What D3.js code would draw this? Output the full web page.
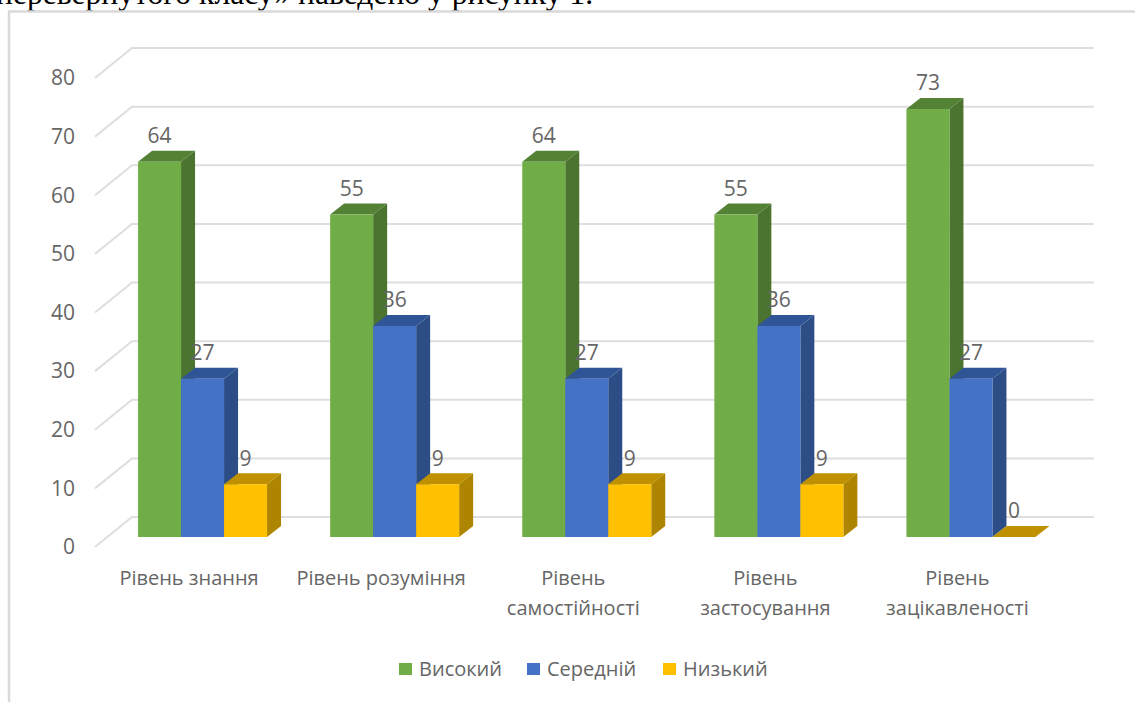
<!DOCTYPE html>
<html>
<head>
<meta charset="utf-8">
<script src="https://cdnjs.cloudflare.com/ajax/libs/d3/7.8.5/d3.min.js"></script>
<style>
html,body{margin:0;padding:0;background:#fff;overflow:hidden}
svg{display:block}
text{font-family:"Open Sans","Noto Sans",sans-serif;fill:#666}
</style>
</head>
<body>
<svg id="chart" width="1135" height="702"></svg>
<script>
const categories = [["Рівень знання"],["Рівень розуміння"],["Рівень","самостійності"],["Рівень","застосування"],["Рівень","зацікавленості"]];
const seriesNames = ["Високий","Середній","Низький"];
const high = [64,55,64,55,73];
const medium = [27,36,27,36,27];
const low = [9,9,9,9,0];
const yTicks = [0,10,20,30,40,50,60,70,80];
const frontColors = ["#70ad47","#4472c4","#ffc000"];
const topColors = ["#548235","#2f5597","#bf9000"];
const sideColors = ["#4b7430","#2c4d85","#ae8500"];

const seriesValues = [high, medium, low];
const svg = d3.select("#chart");
const W = 1135, H = 702;
const depth = {dx:14, dy:11};

const y = d3.scaleLinear().domain([0,80]).range([537,68]);
const xGroup = d3.scaleBand().domain(d3.range(categories.length)).range([106.5,1067]).padding(0);
const barW = 43;
const xBar = i => xGroup(i) + xGroup.bandwidth()/2 - barW*1.5;

// paragraph line cut off by the chart frame
svg.append("text").attr("x",-4).attr("y",4)
  .style("font-family","'Liberation Serif',serif").style("font-size","31.6px").style("fill","#000")
  .text("перевернутого класу» наведено у рисунку 1.");

// chart frame
const frame = svg.append("g").attr("stroke","#d9d9d9").attr("stroke-width",2.5).attr("fill","none");
frame.append("path").attr("d",`M9,${H} V11.5 H${W}`);

// wall gridlines with their floor-to-wall diagonals
const grid = svg.append("g").attr("fill","none").attr("stroke","#dedede").attr("stroke-width",2);
yTicks.forEach(v=>{
  grid.append("path").attr("d",`M95,${y(v)+10} L132,${y(v)-20} H1094`);
});

// value axis labels
svg.append("g").selectAll("text").data(yTicks).join("text")
  .attr("x",75).attr("y",v=>y(v)+10).attr("dy","0.35em")
  .attr("text-anchor","end").style("font-size","21px").text(d=>d);

// 3D bars, back to front within each group
const bars = svg.append("g");
categories.forEach((c,i)=>{
  seriesValues.forEach((vals,s)=>{
    const v = vals[i];
    const x0 = xBar(i)+s*barW, x1 = x0+barW, yt = y(v), yb = y(0);
    const g = bars.append("g");
    g.append("path").attr("fill",sideColors[s])
      .attr("d",`M${x1},${yt} L${x1+depth.dx},${yt-depth.dy} V${yb-depth.dy} L${x1},${yb} Z`);
    g.append("path").attr("fill",topColors[s])
      .attr("d",`M${x0},${yt} L${x0+depth.dx},${yt-depth.dy} H${x1+depth.dx} L${x1},${yt} Z`);
    g.append("rect").attr("x",x0).attr("y",yt).attr("width",barW).attr("height",yb-yt).attr("fill",frontColors[s]);
  });
});

// value labels above each bar
const labels = svg.append("g");
categories.forEach((c,i)=>{
  seriesValues.forEach((vals,s)=>{
    labels.append("text").attr("x",xBar(i)+s*barW+barW/2)
      .attr("y",y(vals[i])-26).attr("dy","0.35em")
      .attr("text-anchor","middle").style("font-size","21px").text(vals[i]);
  });
});

// category labels, centred slightly left of their bars
const cats = svg.append("g");
categories.forEach((lines,i)=>{
  const t = cats.append("text").attr("text-anchor","middle").style("font-size","20px");
  lines.forEach((l,k)=>{
    t.append("tspan").attr("x",xGroup(i)+xGroup.bandwidth()/2-13.5).attr("y",585+k*30).text(l);
  });
});

// legend
const legendX = [399,527,663];
const legend = svg.append("g");
seriesNames.forEach((n,s)=>{
  legend.append("rect").attr("x",legendX[s]).attr("y",663).attr("width",13).attr("height",12).attr("fill",frontColors[s]);
  legend.append("text").attr("x",legendX[s]+20).attr("y",669).attr("dy","0.35em").style("font-size","20px").text(n);
});
</script>
</body>
</html>
